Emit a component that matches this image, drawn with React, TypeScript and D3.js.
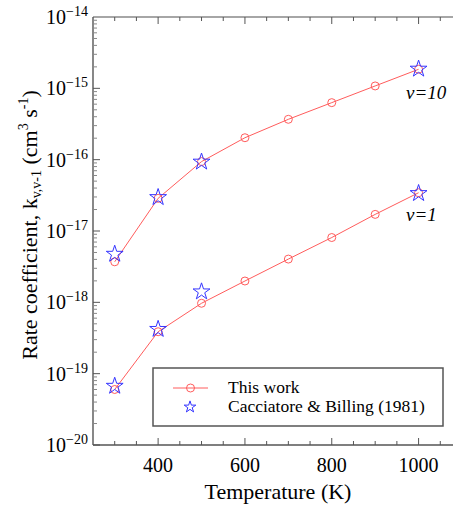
import React, { useRef, useEffect } from 'react';
import * as d3 from 'd3';

const temps = [300, 400, 500, 600, 700, 800, 900, 1000];
const thisWorkV10 = [3.7e-18, 2.87e-17, 9.4e-17, 2.03e-16, 3.68e-16, 6.3e-16, 1.08e-15, 1.85e-15];
const thisWorkV1 = [6.0e-20, 3.87e-19, 9.7e-19, 1.99e-18, 4.04e-18, 8.1e-18, 1.71e-17, 3.44e-17];
const cbTemps = [300, 400, 500, 1000];
const cbV10 = [4.75e-18, 2.96e-17, 9.3e-17, 1.87e-15];
const cbV1 = [6.7e-20, 4.2e-19, 1.41e-18, 3.37e-17];
const xTicks = [400, 600, 800, 1000];
const yExps = [-20, -19, -18, -17, -16, -15, -14];

const FONT = '"Liberation Serif", "Times New Roman", serif';
const RED = '#ff5c5c';
const BLUE = '#3434ff';
const AXIS = '#555';

const App: React.FC = () => {
  const ref = useRef<SVGSVGElement | null>(null);

  useEffect(() => {
    if (!ref.current) return;
    const svg = d3.select(ref.current);
    svg.selectAll('*').remove();
    const margin = { top: 17, left: 93, bottom: 445, right: 462 };
    const x = d3.scaleLinear().domain([250, 1100]).range([margin.left, margin.right]);
    const y = d3.scaleLog().domain([1e-20, 1e-14]).range([margin.bottom, margin.top]);

    // frame
    const frame = svg.append('g').attr('stroke', AXIS).attr('stroke-width', 1.4).attr('fill', 'none');
    frame.append('line').attr('x1', margin.left).attr('x2', margin.right).attr('y1', margin.top).attr('y2', margin.top).attr('stroke', '#888');
    frame.append('line').attr('x1', margin.left).attr('x2', margin.right).attr('y1', margin.bottom).attr('y2', margin.bottom);
    frame.append('line').attr('x1', margin.left).attr('x2', margin.left).attr('y1', margin.top).attr('y2', margin.bottom);

    // x ticks (inward, top and bottom)
    const xMinor = d3.range(300, 1100, 50);
    const tk = svg.append('g').attr('stroke', AXIS).attr('stroke-width', 1);
    xMinor.forEach((t) => {
      const len = xTicks.includes(t) ? 7 : 4;
      tk.append('line').attr('x1', x(t)).attr('x2', x(t)).attr('y1', margin.bottom).attr('y2', margin.bottom - len);
      tk.append('line').attr('x1', x(t)).attr('x2', x(t)).attr('y1', margin.top).attr('y2', margin.top + len);
    });
    svg
      .append('g')
      .selectAll('text')
      .data(xTicks)
      .join('text')
      .attr('x', (d) => x(d))
      .attr('y', 472)
      .attr('text-anchor', 'middle')
      .attr('font-family', FONT)
      .attr('font-size', 20)
      .text((d) => d);

    // y ticks
    for (let e = -20; e < -14; e++) {
      for (let m = 1; m < 10; m++) {
        const v = m * Math.pow(10, e);
        tk.append('line')
          .attr('x1', margin.left)
          .attr('x2', margin.left + (m === 1 ? 7 : 4))
          .attr('y1', y(v))
          .attr('y2', y(v))
          .attr('stroke', m === 1 ? AXIS : '#888');
      }
    }
    const yl = svg
      .append('g')
      .selectAll('text')
      .data(yExps)
      .join('text')
      .attr('x', 88)
      .attr('y', (d) => y(Math.pow(10, d)) + 7)
      .attr('text-anchor', 'end')
      .attr('font-family', FONT)
      .attr('font-size', 20);
    yl.append('tspan').text('10');
    yl.append('tspan').attr('font-size', 14).attr('dy', -8).text((d) => `\u2212${-d}`);

    // series lines
    const line = d3
      .line<number>()
      .x((_, i) => x(temps[i]))
      .y((d) => y(d));
    [thisWorkV10, thisWorkV1].forEach((s) => {
      svg.append('path').datum(s).attr('fill', 'none').attr('stroke', RED).attr('stroke-width', 1).attr('d', line);
      svg
        .append('g')
        .selectAll('circle')
        .data(s)
        .join('circle')
        .attr('cx', (_, i) => x(temps[i]))
        .attr('cy', (d) => y(d))
        .attr('r', 4)
        .attr('fill', 'none')
        .attr('stroke', RED)
        .attr('stroke-width', 1);
    });
    const star = d3.symbol().type(d3.symbolStar).size(88);
    [cbV10, cbV1].forEach((s) => {
      svg
        .append('g')
        .selectAll('path')
        .data(s)
        .join('path')
        .attr('transform', (d, i) => `translate(${x(cbTemps[i])},${y(d)})`)
        .attr('d', star())
        .attr('fill', 'none')
        .attr('stroke', BLUE)
        .attr('stroke-width', 1);
    });

    // series labels
    svg.append('text').attr('x', 406).attr('y', 99).attr('font-family', FONT).attr('font-style', 'italic').attr('font-size', 19).text('v=10');
    svg.append('text').attr('x', 406).attr('y', 221).attr('font-family', FONT).attr('font-style', 'italic').attr('font-size', 19).text('v=1');

    // legend
    const lg = svg.append('g');
    lg.append('rect').attr('x', 153).attr('y', 368).attr('width', 290).attr('height', 58).attr('fill', '#fff').attr('stroke', AXIS).attr('stroke-width', 1.5);
    lg.append('line').attr('x1', 173).attr('x2', 208).attr('y1', 388).attr('y2', 388).attr('stroke', RED).attr('stroke-width', 1);
    lg.append('circle').attr('cx', 190.5).attr('cy', 388).attr('r', 4).attr('fill', 'none').attr('stroke', RED);
    lg.append('path').attr('transform', 'translate(190,407)').attr('d', d3.symbol().type(d3.symbolStar).size(42)()).attr('fill', 'none').attr('stroke', BLUE);
    lg.append('text').attr('x', 228).attr('y', 393).attr('font-family', FONT).attr('font-size', 17.5).text('This work');
    lg.append('text').attr('x', 228).attr('y', 412).attr('font-family', FONT).attr('font-size', 17.5).text('Cacciatore & Billing (1981)');

    // axis titles
    svg.append('text').attr('x', 278).attr('y', 499).attr('text-anchor', 'middle').attr('font-family', FONT).attr('font-size', 22).text('Temperature (K)');
    const yt = svg
      .append('text')
      .attr('transform', 'translate(37,225) rotate(-90)')
      .attr('text-anchor', 'middle')
      .attr('font-family', FONT)
      .attr('font-size', 22);
    yt.append('tspan').text('Rate coefficient, k');
    yt.append('tspan').attr('font-size', 14).attr('dy', 4).text('v,v-1');
    yt.append('tspan').attr('dy', -4).text(' (cm');
    yt.append('tspan').attr('font-size', 14).attr('dy', -9).text('3');
    yt.append('tspan').attr('dy', 9).text(' s');
    yt.append('tspan').attr('font-size', 14).attr('dy', -9).text('-1');
    yt.append('tspan').attr('dy', 9).text(')');
  }, []);

  return (
    <div style={{ position: 'fixed', left: 0, top: 0 }}>
      <svg ref={ref} width={453} height={511} style={{ display: 'block', background: '#fff' }} />
    </div>
  );
};

export default App;
